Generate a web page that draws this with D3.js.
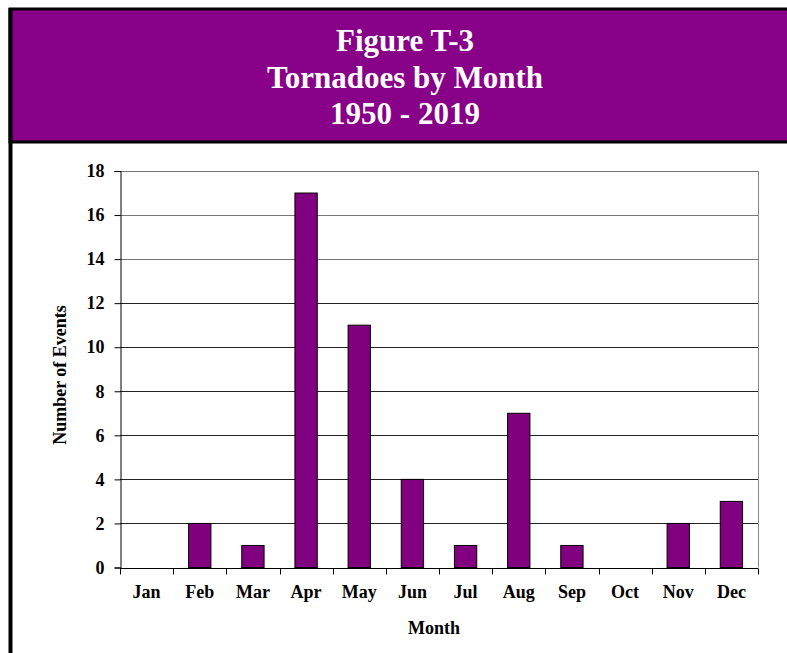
<!DOCTYPE html>
<html>
<head>
<meta charset="utf-8">
<script src="https://cdn.jsdelivr.net/npm/d3@7"></script>
<style>
  body { margin: 0; background: #fff; }
  text { font-family: "Liberation Serif", "Times New Roman", serif; font-weight: bold; }
</style>
</head>
<body>
<svg id="chart" width="787" height="653"></svg>
<script>
let months = ["Jan", "Feb", "Mar", "Apr", "May", "Jun", "Jul", "Aug", "Sep", "Oct", "Nov", "Dec"];
let events = [0, 2, 1, 17, 11, 4, 1, 7, 1, 0, 2, 3];
let yTicks = [0, 2, 4, 6, 8, 10, 12, 14, 16, 18];
let titleLines = ["Figure T-3", "Tornadoes by Month", "1950 - 2019"];

let svg = d3.select("#chart");
let margin = {top: 171, right: 29, bottom: 85, left: 120};
let width = 787, height = 653;

// header band
svg.append("rect")
  .attr("x", 10).attr("y", 9)
  .attr("width", 800).attr("height", 133)
  .attr("fill", "#880088")
  .attr("stroke", "#000")
  .attr("stroke-width", 3);

// left frame line down the page
svg.append("line")
  .attr("x1", 10.5).attr("x2", 10.5)
  .attr("y1", 8).attr("y2", height)
  .attr("stroke", "#000").attr("stroke-width", 4);

svg.append("g").selectAll("text")
  .data(titleLines)
  .join("text")
  .attr("x", 405)
  .attr("y", (d, i) => 51 + i * 36.5)
  .attr("text-anchor", "middle")
  .attr("fill", "#fff")
  .style("font-size", "31px")
  .text(d => d);

let x = d3.scaleBand()
  .domain(months)
  .range([margin.left, width - margin.right])
  .paddingInner(0.58)
  .paddingOuter(0.29);

let xTicks = d3.scaleBand()
  .domain(months)
  .range([margin.left, width - margin.right]);

let y = d3.scaleLinear()
  .domain([0, 18])
  .range([height - margin.bottom - 0.5, margin.top]);

// gridlines
svg.append("g")
  .selectAll("line")
  .data(yTicks.filter(d => d > 0))
  .join("line")
  .attr("x1", margin.left)
  .attr("x2", width - margin.right)
  .attr("y1", d => Math.round(y(d)) + 0.5)
  .attr("y2", d => Math.round(y(d)) + 0.5)
  .attr("stroke", d => d >= 14 ? "#777" : "#222")
  .attr("stroke-width", 1);

// right border
svg.append("line")
  .attr("x1", width - margin.right + 0.5)
  .attr("x2", width - margin.right + 0.5)
  .attr("y1", y(18))
  .attr("y2", y(0))
  .attr("stroke", "#888");

// bars
svg.append("g")
  .selectAll("rect")
  .data(months.map((m, i) => ({month: m, value: events[i]})).filter(d => d.value > 0))
  .join("rect")
  .attr("x", d => x(d.month))
  .attr("width", x.bandwidth())
  .attr("y", d => y(d.value))
  .attr("height", d => y(0) - y(d.value))
  .attr("fill", "#800080")
  .attr("stroke", "#000")
  .attr("stroke-width", 1);

// y axis
let yAxis = svg.append("g")
  .attr("transform", `translate(${margin.left + 0.5},0)`)
  .call(d3.axisLeft(y).tickValues(yTicks).tickSize(6).tickPadding(10));
yAxis.selectAll("text").style("font-size", "18px").attr("fill", "#000");
yAxis.selectAll("line, path").attr("stroke", "#000");

// x axis
let xAxis = svg.append("g")
  .attr("transform", `translate(0,${Math.round(y(0)) + 0.5})`);
xAxis.append("line")
  .attr("x1", margin.left).attr("x2", width - margin.right)
  .attr("stroke", "#000");
xAxis.selectAll(".tick")
  .data(months.concat([null]))
  .join("line")
  .attr("class", "tick")
  .attr("x1", d => d ? Math.round(xTicks(d)) + 0.5 : width - margin.right + 0.5)
  .attr("x2", d => d ? Math.round(xTicks(d)) + 0.5 : width - margin.right + 0.5)
  .attr("y1", 0).attr("y2", 6)
  .attr("stroke", "#000");
xAxis.selectAll(".lbl")
  .data(months)
  .join("text")
  .attr("class", "lbl")
  .attr("x", d => xTicks(d) + xTicks.bandwidth() / 2)
  .attr("y", 29)
  .attr("text-anchor", "middle")
  .style("font-size", "18px")
  .text(d => d);

// axis titles
svg.append("text")
  .attr("x", 434)
  .attr("y", 634)
  .attr("text-anchor", "middle")
  .style("font-size", "18px")
  .text("Month");

svg.append("text")
  .attr("transform", "translate(66,375) rotate(-90)")
  .attr("text-anchor", "middle")
  .style("font-size", "18px")
  .text("Number of Events");
</script>
</body>
</html>
